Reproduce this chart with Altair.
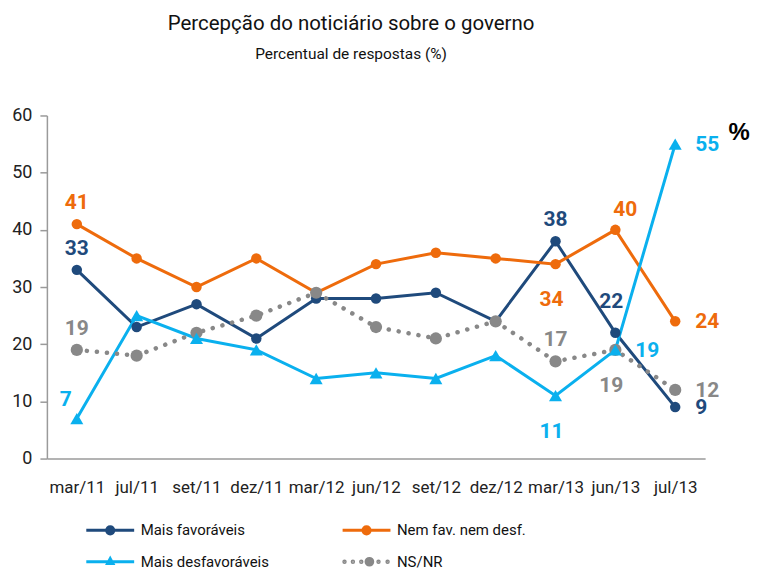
import altair as alt
import pandas as pd

months = ["mar/11", "jul/11", "set/11", "dez/11", "mar/12", "jun/12",
          "set/12", "dez/12", "mar/13", "jun/13", "jul/13"]
series_names = ["Mais favoráveis", "Nem fav. nem desf.", "Mais desfavoráveis", "NS/NR"]
mais_fav = [33, 23, 27, 21, 28, 28, 29, 24, 38, 22, 9]
nem_fav = [41, 35, 30, 35, 29, 34, 36, 35, 34, 40, 24]
mais_desfav = [7, 25, 21, 19, 14, 15, 14, 18, 11, 19, 55]
ns_nr = [19, 18, 22, 25, 29, 23, 21, 24, 17, 19, 12]
colors = ["#1F4A7C", "#EE6B0C", "#0AB0EE", "#888888"]
y_ticks = [0, 10, 20, 30, 40, 50, 60]

# points that carry a value label and where the label sits
label_points = [
    ("Mais favoráveis", "mar/11", "above"),
    ("Mais favoráveis", "mar/13", "above"),
    ("Mais favoráveis", "jun/13", "upleft"),
    ("Mais favoráveis", "jul/13", "right"),
    ("Nem fav. nem desf.", "mar/11", "above"),
    ("Nem fav. nem desf.", "mar/13", "below"),
    ("Nem fav. nem desf.", "jun/13", "aboveright"),
    ("Nem fav. nem desf.", "jul/13", "right"),
    ("Mais desfavoráveis", "mar/11", "left"),
    ("Mais desfavoráveis", "mar/13", "below"),
    ("Mais desfavoráveis", "jun/13", "right"),
    ("Mais desfavoráveis", "jul/13", "right"),
    ("NS/NR", "mar/11", "above"),
    ("NS/NR", "mar/13", "above"),
    ("NS/NR", "jun/13", "below"),
    ("NS/NR", "jul/13", "right"),
]

FONT = "Roboto, sans-serif"

rows = []
for name, vals in zip(series_names, [mais_fav, nem_fav, mais_desfav, ns_nr]):
    for m, v in zip(months, vals):
        rows.append({"serie": name, "mes": m, "valor": v})
df = pd.DataFrame(rows)

lab_rows = []
for name, m, pos in label_points:
    v = df[(df.serie == name) & (df.mes == m)].valor.iloc[0]
    lab_rows.append({"serie": name, "mes": m, "valor": int(v), "pos": pos})
lab_df = pd.DataFrame(lab_rows)


# legend symbols: custom stroked paths (12 px per unit, symbol centred at +1)
def ring(cx, r):
    return f"M{cx - r},0A{r},{r},0,1,1,{cx + r},0A{r},{r},0,1,1,{cx - r},0 "


P_CIRC = "M-1,0H3 " + ring(1, 0.12) + ring(1, 0.3)
P_TRI = "M-1,0H3 M1,-0.26L1.22,0.14L0.78,0.14Z M1,-0.1L1.08,0.06L0.92,0.06Z"
P_DOTS = (ring(-0.84, 0.06) + ring(-0.14, 0.06) + ring(0.56, 0.06) +
          ring(1.24, 0.12) + ring(1.24, 0.28) + ring(2.0, 0.06) + ring(2.76, 0.06))

shape_expr = ("datum.value === 'Mais desfavoráveis' ? '" + P_TRI + "' : datum.value === 'NS/NR' ? '"
              + P_DOTS + "' : '" + P_CIRC + "'")

legend = alt.Legend(
    title=None, orient="none", direction="horizontal", legendX=38, legendY=402, columns=2,
    columnPadding=67, rowPadding=8, padding=0, labelFont=FONT, labelFontSize=15,
    labelColor="#111111", labelOffset=29, symbolSize=576, symbolType={"expr": shape_expr},
    symbolStrokeWidth=3, symbolOpacity=1, symbolFillColor="transparent",
)

x_enc = alt.X("mes:N", sort=months, scale=alt.Scale(type="point", padding=0.5),
              axis=alt.Axis(title=None, labelAngle=0, ticks=False, domainColor="#9a9a9a",
                            domainWidth=1.5, labelFont=FONT, labelFontSize=17,
                            labelColor="#222222", labelPadding=21))
y_enc = alt.Y("valor:Q", scale=alt.Scale(domain=[0, 60], nice=False),
              axis=alt.Axis(title=None, values=y_ticks, grid=False, domainColor="#9a9a9a",
                            domainWidth=1.5, tickColor="#9a9a9a", tickWidth=1.5, tickSize=7,
                            labelFont=FONT, labelFontSize=18, labelColor="#222222",
                            labelPadding=8))
color_enc = alt.Color("serie:N", scale=alt.Scale(domain=series_names, range=colors), legend=legend)

base = alt.Chart(df).encode(x=x_enc, y=y_enc, color=color_enc)

solid = base.transform_filter("datum.serie !== 'NS/NR'").mark_line(strokeWidth=3)
dotted = base.transform_filter("datum.serie === 'NS/NR'").mark_line(
    strokeWidth=4.5, strokeDash=[0.1, 10], strokeCap="round")
circles = base.transform_filter(
    "datum.serie === 'Mais favoráveis' || datum.serie === 'Nem fav. nem desf.'"
).mark_point(filled=True, opacity=1, shape="circle", size=110)
gray_pts = base.transform_filter("datum.serie === 'NS/NR'").mark_point(
    filled=True, opacity=1, shape="circle", size=150)
triangles = base.transform_filter("datum.serie === 'Mais desfavoráveis'").mark_point(
    filled=True, opacity=1, shape="triangle-up", size=170)

offsets = {
    "above": dict(dx=0, dy=-21, align="center"),
    "aboveright": dict(dx=10, dy=-20, align="center"),
    "upleft": dict(dx=-4, dy=-31, align="center"),
    "below": dict(dx=-4, dy=36, align="center"),
    "right": dict(dx=20, dy=1, align="left"),
    "left": dict(dx=-11, dy=-19, align="center"),
}
lab_layers = []
lab_base = alt.Chart(lab_df).encode(x=x_enc, y=y_enc, color=color_enc, text="valor:Q")
for pos, o in offsets.items():
    lab_layers.append(
        lab_base.transform_filter(f"datum.pos === '{pos}'").mark_text(
            font=FONT, fontSize=21, fontWeight="bold", baseline="middle", **o)
    )

pct = alt.Chart(pd.DataFrame({"t": ["%"]})).mark_text(
    font="'Liberation Sans', Arial, sans-serif", fontSize=24, fontWeight="bold",
    color="#000000", align="center", baseline="middle"
).encode(text="t:N", x=alt.value(694), y=alt.value(18))

chart = alt.layer(solid, dotted, circles, gray_pts, triangles, *lab_layers, pct).properties(
    width=660, height=344,
    padding={"left": 3, "top": 5, "right": 0, "bottom": 5},
    title=alt.Title("Percepção do noticiário sobre o governo",
                    subtitle="Percentual de respostas (%)",
                    font=FONT, fontSize=20.5, fontWeight="normal", color="#111111",
                    subtitleFont=FONT, subtitleFontSize=15.5, subtitleColor="#111111",
                    anchor="middle", dx=-25, offset=44, subtitlePadding=13),
).configure_view(stroke=None)

chart.save("out.html", embed_options={"renderer": "svg", "actions": False})
